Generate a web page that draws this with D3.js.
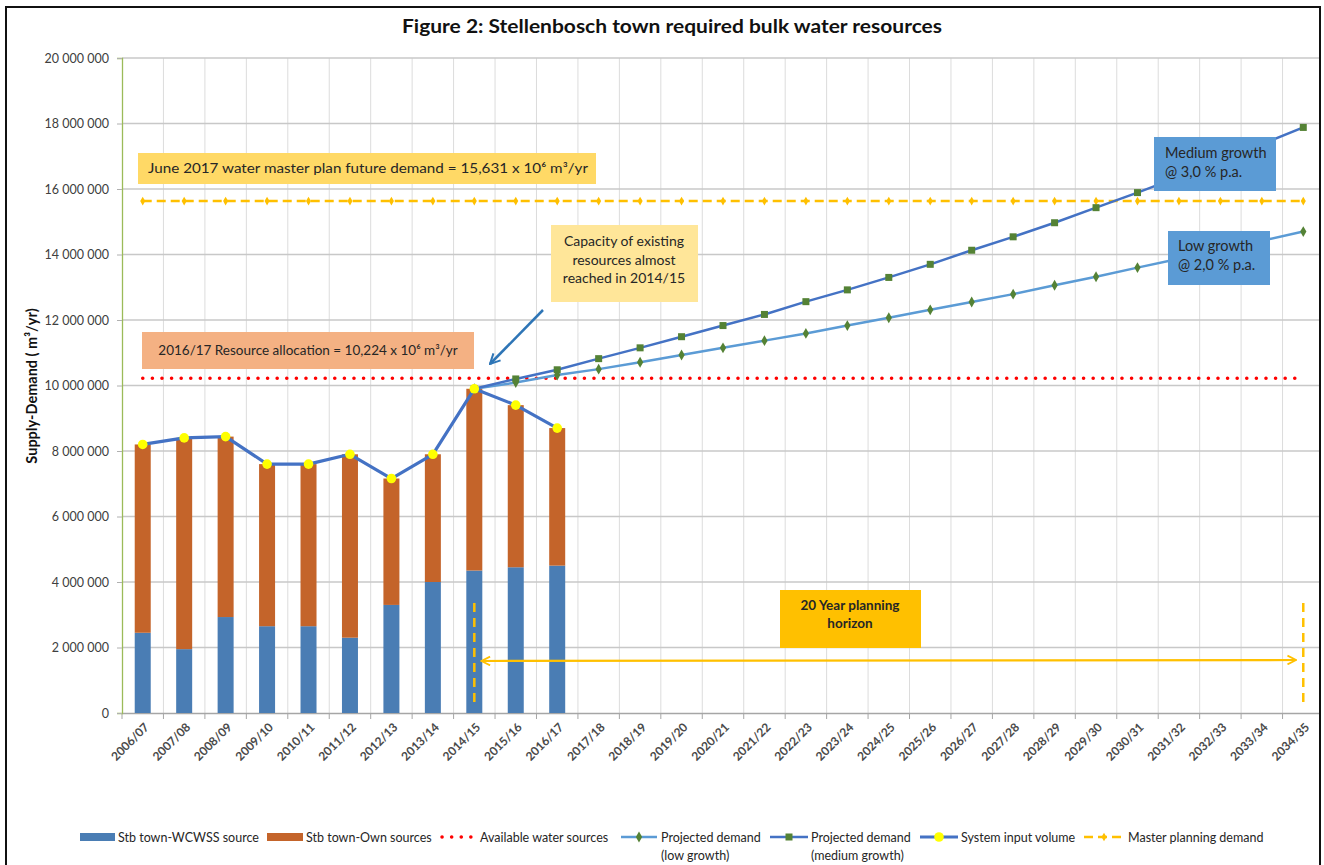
<!DOCTYPE html>
<meta charset="utf-8">
<style>
  body { margin: 0; background: #fff; }
  text { font-family: Lato, "Open Sans", sans-serif; }
</style>
<svg width="1324" height="865"></svg>
<script src="https://cdn.jsdelivr.net/npm/d3@7"></script>
<script>
// categories (financial years)
var categories = ["2006/07","2007/08","2008/09","2009/10","2010/11","2011/12","2012/13","2013/14",
  "2014/15","2015/16","2016/17","2017/18","2018/19","2019/20","2020/21","2021/22","2022/23",
  "2023/24","2024/25","2025/26","2026/27","2027/28","2028/29","2029/30","2030/31","2031/32",
  "2032/33","2033/34","2034/35"];

// historic supply (m3/yr), 2006/07 - 2016/17
var wcwss = [2450000,1950000,2930000,2650000,2650000,2300000,3300000,4000000,4350000,4450000,4500000];
var ownSources = [5750000,6450000,5510000,4950000,4950000,5600000,3860000,3900000,5550000,4950000,4200000];
var systemInput = [8200000,8400000,8440000,7600000,7600000,7900000,7160000,7900000,9900000,9400000,8700000];

// projections start at 2014/15
var projStart = "2014/15";
var lowGrowth = [9900000,10090000,10320000,10500000,10710000,10930000,11150000,11370000,11590000,
  11830000,12070000,12310000,12550000,12790000,13060000,13320000,13600000,13870000,14150000,14420000,14700000];
var mediumGrowth = [9900000,10200000,10480000,10820000,11150000,11490000,11830000,12170000,12560000,
  12920000,13300000,13700000,14130000,14540000,14970000,15430000,15890000,16370000,16860000,17370000,17880000];

var availableSources = 10224000;
var masterDemand = 15631000;
var yTicks = [0,2000000,4000000,6000000,8000000,10000000,12000000,14000000,16000000,18000000,20000000];

var svg = d3.select("svg");
var x = d3.scaleBand().domain(categories).range([122, 1324]).padding(0);
var y = d3.scaleLinear().domain([0, 20000000]).range([713, 58]);
var cx = function(c) { return x(c) + x.bandwidth() / 2; };
var fmt = function(v) { return d3.format(",")(v).replace(/,/g, " "); };

var defs = svg.append("defs");
defs.append("clipPath").attr("id", "plotclip").append("rect")
  .attr("x", 0).attr("y", 0).attr("width", 1319).attr("height", 865);

// frame
svg.append("rect").attr("x", 6).attr("y", 7).attr("width", 1314).attr("height", 870)
  .attr("fill", "#fff").attr("stroke", "#111").attr("stroke-width", 2);

svg.append("text").attr("x", 672).attr("y", 33).attr("text-anchor", "middle")
  .attr("font-size", 19).attr("font-weight", "bold").attr("fill", "#111")
  .attr("textLength", 540).attr("lengthAdjust", "spacingAndGlyphs")
  .text("Figure 2: Stellenbosch town required bulk water resources");

var plot = svg.append("g").attr("clip-path", "url(#plotclip)");

// gridlines
plot.append("g").selectAll("line").data(categories.slice(1)).join("line")
  .attr("x1", function(d) { return x(d); }).attr("x2", function(d) { return x(d); })
  .attr("y1", 58).attr("y2", 713).attr("stroke", "#dcdcdc").attr("stroke-width", 1);
plot.append("g").selectAll("line").data(yTicks.slice(1)).join("line")
  .attr("x1", 122).attr("x2", 1324).attr("y1", function(d) { return y(d); }).attr("y2", function(d) { return y(d); })
  .attr("stroke", "#c8c8c8").attr("stroke-width", 1.3);

// y axis
var yAxis = svg.append("g").attr("transform", "translate(122,0)")
  .call(d3.axisLeft(y).tickValues(yTicks).tickFormat(fmt).tickSize(5).tickPadding(8));
yAxis.select(".domain").attr("stroke", "#9bbb59").attr("stroke-width", 1.3);
yAxis.selectAll(".tick line").attr("stroke", "#b0b0b0");
yAxis.selectAll("text").attr("font-size", 12.5).attr("fill", "#404040").attr("font-family", "Lato, sans-serif");

// x axis
var xAxis = plot.append("g").attr("transform", "translate(0,713)")
  .call(d3.axisBottom(x).tickSize(0).tickFormat(""));
xAxis.select(".domain").attr("stroke", "#a6a6a6").attr("stroke-width", 1.3);
plot.append("g").selectAll("line").data(categories).join("line")
  .attr("x1", function(d) { return x(d); }).attr("x2", function(d) { return x(d); })
  .attr("y1", 713).attr("y2", 719).attr("stroke", "#a6a6a6");
svg.append("g").selectAll("text").data(categories).join("text")
  .attr("transform", function(d) { return "translate(" + (cx(d) + 4) + ",725) rotate(-45)"; })
  .attr("text-anchor", "end").attr("dy", "0.35em")
  .attr("font-size", 12).attr("font-weight", "bold").attr("fill", "#4a4a4a")
  .text(function(d) { return d; });

svg.append("text").attr("transform", "translate(37,386) rotate(-90)").attr("text-anchor", "middle")
  .attr("font-size", 14.5).attr("font-weight", "bold").attr("fill", "#111")
  .text("Supply-Demand ( m³/yr)");

// stacked bars
var hist = categories.slice(0, wcwss.length);
var barW = 16;
plot.append("g").selectAll("rect").data(hist).join("rect")
  .attr("x", function(d) { return cx(d) - barW / 2; }).attr("width", barW)
  .attr("y", function(d, i) { return y(wcwss[i]); })
  .attr("height", function(d, i) { return y(0) - y(wcwss[i]); })
  .attr("fill", "#4a7db4");
plot.append("g").selectAll("rect").data(hist).join("rect")
  .attr("x", function(d) { return cx(d) - barW / 2; }).attr("width", barW)
  .attr("y", function(d, i) { return y(wcwss[i] + ownSources[i]); })
  .attr("height", function(d, i) { return y(wcwss[i]) - y(wcwss[i] + ownSources[i]); })
  .attr("fill", "#c4642a");

// horizontal reference lines
var first = cx(categories[0]), last = cx(categories[categories.length - 1]);
plot.append("line").attr("x1", first).attr("x2", last)
  .attr("y1", y(availableSources)).attr("y2", y(availableSources))
  .attr("stroke", "#ff0000").attr("stroke-width", 3.5).attr("stroke-linecap", "round")
  .attr("stroke-dasharray", "0.1 9.5");
plot.append("line").attr("x1", first).attr("x2", last)
  .attr("y1", y(masterDemand)).attr("y2", y(masterDemand))
  .attr("stroke", "#ffc000").attr("stroke-width", 2.5).attr("stroke-dasharray", "9 5");
plot.append("g").selectAll("path").data(categories).join("path")
  .attr("transform", function(d) { return "translate(" + cx(d) + "," + y(masterDemand) + ")"; })
  .attr("d", d3.symbol(d3.symbolDiamond, 22)).attr("fill", "#ffc000");

// projections
var projCats = categories.slice(categories.indexOf(projStart));
var line = d3.line().x(function(d) { return cx(d[0]); }).y(function(d) { return y(d[1]); });
var lowPts = projCats.map(function(c, i) { return [c, lowGrowth[i]]; });
var medPts = projCats.map(function(c, i) { return [c, mediumGrowth[i]]; });
plot.append("path").datum(lowPts).attr("d", line).attr("fill", "none")
  .attr("stroke", "#5b9bd5").attr("stroke-width", 2.5);
plot.append("g").selectAll("path").data(lowPts).join("path")
  .attr("transform", function(d) { return "translate(" + cx(d[0]) + "," + y(d[1]) + ")"; })
  .attr("d", d3.symbol(d3.symbolDiamond, 34)).attr("fill", "#548235");
plot.append("path").datum(medPts).attr("d", line).attr("fill", "none")
  .attr("stroke", "#4472c4").attr("stroke-width", 2.5);
plot.append("g").selectAll("rect").data(medPts).join("rect")
  .attr("x", function(d) { return cx(d[0]) - 3.5; }).attr("y", function(d) { return y(d[1]) - 3.5; })
  .attr("width", 7).attr("height", 7).attr("fill", "#548235");

// system input volume
var sysPts = hist.map(function(c, i) { return [c, systemInput[i]]; });
plot.append("path").datum(sysPts).attr("d", line).attr("fill", "none")
  .attr("stroke", "#4472c4").attr("stroke-width", 3.2).attr("stroke-linejoin", "round");
plot.append("g").selectAll("circle").data(sysPts).join("circle")
  .attr("cx", function(d) { return cx(d[0]); }).attr("cy", function(d) { return y(d[1]); })
  .attr("r", 4.8).attr("fill", "#ffff00");

// planning horizon
var hStart = cx("2014/15"), hEnd = cx("2034/35");
[hStart, hEnd].forEach(function(xx) {
  svg.append("line").attr("x1", xx).attr("x2", xx).attr("y1", 603).attr("y2", 708)
    .attr("stroke", "#ffc000").attr("stroke-width", 2.5).attr("stroke-dasharray", "9 6");
});
defs.append("marker").attr("id", "openArrowO").attr("viewBox", "0 0 10 10").attr("refX", 9).attr("refY", 5)
  .attr("markerWidth", 5).attr("markerHeight", 5).attr("orient", "auto-start-reverse")
  .append("path").attr("d", "M1,1 L9,5 L1,9").attr("fill", "none").attr("stroke", "#ffc000").attr("stroke-width", 1.6);
svg.append("line").attr("x1", hStart + 7).attr("x2", hEnd - 7).attr("y1", 661).attr("y2", 660)
  .attr("stroke", "#ffc000").attr("stroke-width", 2.2)
  .attr("marker-start", "url(#openArrowO)").attr("marker-end", "url(#openArrowO)");

// annotation boxes
function box(x0, y0, w, h, fill, lines, opts) {
  opts = opts || {};
  svg.append("rect").attr("x", x0).attr("y", y0).attr("width", w).attr("height", h).attr("fill", fill);
  var t = svg.append("text").attr("font-size", opts.size || 14).attr("fill", "#262626")
    .attr("font-weight", opts.weight || "normal")
    .attr("text-anchor", opts.anchor || "middle");
  lines.forEach(function(s, i) {
    var ts = t.append("tspan").attr("x", opts.tx).attr("y", opts.ty + i * (opts.lh || 19)).text(s);
    if (opts.len) ts.attr("textLength", opts.len).attr("lengthAdjust", "spacingAndGlyphs");
  });
}
box(138, 153, 458, 31, "#ffd966", ["June 2017 water master plan future demand = 15,631 x 10⁶ m³/yr"],
  { tx: 148, ty: 173, anchor: "start", size: 14, len: 440 });
box(142, 332, 332, 37, "#f4b183", ["2016/17 Resource allocation = 10,224 x 10⁶ m³/yr"],
  { tx: 308, ty: 355, size: 13.5 });
box(551, 225, 147, 77, "#ffe699", ["Capacity of existing", "resources almost", "reached in 2014/15"],
  { tx: 624, ty: 246, lh: 18.5 });
box(1154, 137, 122, 54, "#5b9bd5", ["Medium growth", "@ 3,0 % p.a."],
  { tx: 1165, ty: 158, anchor: "start", size: 14.5 });
box(1168, 231, 102, 54, "#5b9bd5", ["Low growth", "@ 2,0 % p.a."],
  { tx: 1178, ty: 251, anchor: "start", size: 14.5 });
box(780, 590, 141, 58, "#ffc000", ["20 Year planning", "horizon"],
  { tx: 850, ty: 610, lh: 18, size: 13.5, weight: "bold" });

defs.append("marker").attr("id", "openArrowB").attr("viewBox", "0 0 10 10").attr("refX", 9).attr("refY", 5)
  .attr("markerWidth", 5).attr("markerHeight", 5).attr("orient", "auto")
  .append("path").attr("d", "M1,1 L9,5 L1,9").attr("fill", "none").attr("stroke", "#2e75b6").attr("stroke-width", 1.6);
svg.append("line").attr("x1", 543).attr("y1", 310).attr("x2", 490).attr("y2", 364)
  .attr("stroke", "#2e75b6").attr("stroke-width", 2.5).attr("marker-end", "url(#openArrowB)");

// legend
var lg = svg.append("g").attr("font-size", 12.5).attr("fill", "#262626");
function legText(xx, lines) {
  var t = lg.append("text").attr("fill", "#262626");
  lines.forEach(function(s, i) { t.append("tspan").attr("x", xx).attr("y", 842 + i * 18).text(s); });
}
lg.append("rect").attr("x", 80).attr("y", 833).attr("width", 35).attr("height", 8).attr("fill", "#4a7db4");
legText(118, ["Stb town-WCWSS source"]);
lg.append("rect").attr("x", 267).attr("y", 833).attr("width", 36).attr("height", 8).attr("fill", "#c4642a");
legText(306, ["Stb town-Own sources"]);
lg.append("line").attr("x1", 442).attr("x2", 472).attr("y1", 837).attr("y2", 837)
  .attr("stroke", "#ff0000").attr("stroke-width", 3.5).attr("stroke-linecap", "round").attr("stroke-dasharray", "0.1 9.5");
legText(480, ["Available water sources"]);
lg.append("line").attr("x1", 621).attr("x2", 657).attr("y1", 837).attr("y2", 837).attr("stroke", "#5b9bd5").attr("stroke-width", 2.5);
lg.append("path").attr("transform", "translate(639,837)").attr("d", d3.symbol(d3.symbolDiamond, 34)).attr("fill", "#548235");
legText(661, ["Projected demand", "(low growth)"]);
lg.append("line").attr("x1", 770).attr("x2", 808).attr("y1", 837).attr("y2", 837).attr("stroke", "#4472c4").attr("stroke-width", 2.5);
lg.append("rect").attr("x", 785.5).attr("y", 833.5).attr("width", 7).attr("height", 7).attr("fill", "#548235");
legText(811, ["Projected demand", "(medium growth)"]);
lg.append("line").attr("x1", 920).attr("x2", 958).attr("y1", 837).attr("y2", 837).attr("stroke", "#4472c4").attr("stroke-width", 3.2);
lg.append("circle").attr("cx", 939).attr("cy", 837).attr("r", 4.8).attr("fill", "#ffff00");
legText(961, ["System input volume"]);
lg.append("line").attr("x1", 1084).attr("x2", 1124).attr("y1", 837).attr("y2", 837)
  .attr("stroke", "#ffc000").attr("stroke-width", 2.5).attr("stroke-dasharray", "9 5");
lg.append("path").attr("transform", "translate(1104,837)").attr("d", d3.symbol(d3.symbolDiamond, 22)).attr("fill", "#ffc000");
legText(1128, ["Master planning demand"]);
</script>
